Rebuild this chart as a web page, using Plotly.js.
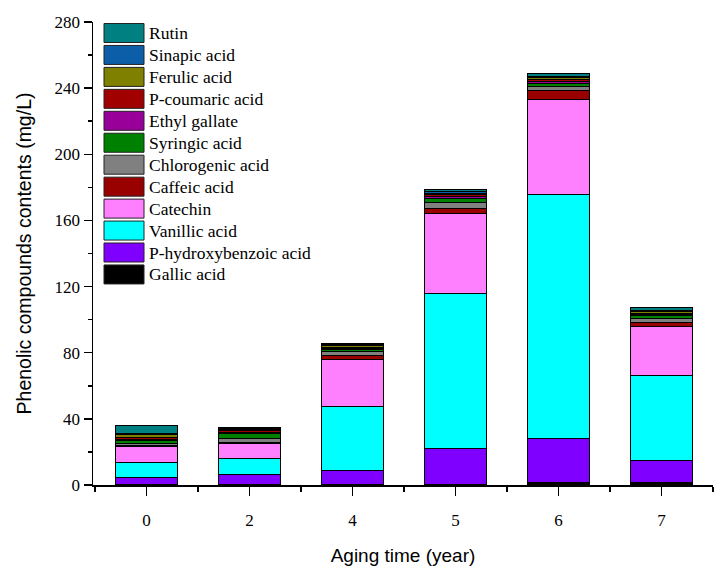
<!DOCTYPE html>
<html>
<head>
<meta charset="utf-8">
<script src="https://cdn.plot.ly/plotly-3.0.1.min.js"></script>
<style>html,body{margin:0;padding:0;background:#fff;}#chart{width:721px;height:578px;}</style>
</head>
<body>
<div id="chart"></div>
<script>
// Categories (aging time, years)
const categories = ['0', '2', '4', '5', '6', '7'];

// Series values (mg/L), stacked bottom -> top
const gallicAcid        = [0.5, 0.3, 0.3, 0.6, 1.4, 1.4];
const pHydroxybenzoic   = [4.1, 6.3, 8.7, 21.2, 26.6, 13.7];
const vanillicAcid      = [9.3, 9.5, 38.3, 94.1, 147.8, 51.4];
const catechin          = [9.3, 9.1, 28.6, 48.0, 57.4, 29.2];
const caffeicAcid       = [0.5, 0.6, 2.4, 3.6, 5.4, 2.6];
const chlorogenicAcid   = [1.5, 2.2, 2.2, 3.4, 2.2, 2.4];
const syringicAcid      = [1.6, 3.2, 1.2, 2.6, 1.8, 1.6];
const ethylGallate      = [0.6, 0.8, 0.8, 1.0, 1.2, 0.8];
const pCoumaricAcid     = [1.4, 0.8, 0.8, 1.0, 1.2, 0.8];
const ferulicAcid       = [1.6, 0.8, 0.8, 1.0, 1.2, 0.8];
const sinapicAcid       = [0.8, 0.6, 0.8, 1.0, 1.0, 0.7];
const rutin             = [4.5, 0.4, 0.8, 1.2, 1.7, 1.8];

const seriesNames = ['Gallic acid', 'P-hydroxybenzoic acid', 'Vanillic acid', 'Catechin',
  'Caffeic acid', 'Chlorogenic acid', 'Syringic acid', 'Ethyl gallate',
  'P-coumaric acid', 'Ferulic acid', 'Sinapic acid', 'Rutin'];
const seriesValues = [gallicAcid, pHydroxybenzoic, vanillicAcid, catechin, caffeicAcid,
  chlorogenicAcid, syringicAcid, ethylGallate, pCoumaricAcid, ferulicAcid, sinapicAcid, rutin];
const seriesColors = ['#000000', '#8000FF', '#00FFFF', '#FF80FF', '#990000', '#808080',
  '#008000', '#990099', '#A00000', '#808000', '#0D5EA8', '#008080'];

const xPos = categories.map((c, i) => i);

const traces = seriesNames.map((name, k) => ({
  type: 'bar',
  name: name,
  x: xPos,
  y: seriesValues[k],
  marker: { color: seriesColors[k], line: { color: '#000000', width: 1 } },
  showlegend: false,
  hovertemplate: name + ': %{y}<extra></extra>'
}));

// Custom legend (large swatches like the original), top item = last series
const shapes = [];
const annotations = [];
const W = 721, H = 578;
const mL = 93, mR = 8, mT = 22, mB = 93;
const pw = W - mL - mR, ph = H - mT - mB;
const legX0 = 104, legY0 = 23.5, legStep = 21.95, swW = 40, swH = 19;
const order = seriesNames.map((n, i) => i).reverse();
order.forEach((k, row) => {
  const y0 = legY0 + row * legStep;
  const toPX = px => (px - mL) / pw;
  const toPY = py => 1 - (py - mT) / ph;
  shapes.push({
    type: 'rect', xref: 'paper', yref: 'paper',
    x0: toPX(legX0), x1: toPX(legX0 + swW),
    y0: toPY(y0 + swH), y1: toPY(y0),
    fillcolor: seriesColors[k], line: { color: '#222222', width: 1 }
  });
  annotations.push({
    xref: 'paper', yref: 'paper', x: toPX(legX0 + swW + 3), y: toPY(y0 + swH / 2),
    xanchor: 'left', yanchor: 'middle', showarrow: false,
    text: seriesNames[k],
    font: { family: 'Liberation Serif, Times New Roman, serif', size: 17.5, color: '#000' }
  });
});

const layout = {
  width: W, height: H,
  margin: { l: mL, r: mR, t: mT, b: mB },
  paper_bgcolor: '#ffffff', plot_bgcolor: '#ffffff',
  barmode: 'stack',
  bargap: 0.4,
  showlegend: false,
  xaxis: {
    range: [-0.52, 5.5],
    tickmode: 'array', tickvals: xPos, ticktext: categories,
    ticks: 'outside', ticklen: 9, tickwidth: 1.5, tickcolor: '#000',
    ticklabelstandoff: 10,
    showline: true, linecolor: '#000', linewidth: 1.5,
    showgrid: false, zeroline: false,
    minor: { tickmode: 'linear', tick0: -0.5, dtick: 1, ticks: 'outside', ticklen: 5, tickwidth: 1.5, tickcolor: '#000', showgrid: false },
    tickfont: { family: 'Liberation Serif, Times New Roman, serif', size: 17, color: '#000' },
    title: { text: 'Aging time (year)', standoff: 20,
      font: { family: 'Liberation Sans, Arial, sans-serif', size: 19, color: '#000' } }
  },
  yaxis: {
    range: [0, 280],
    tickmode: 'linear', tick0: 0, dtick: 40,
    ticks: 'outside', ticklen: 8, tickwidth: 1.5, tickcolor: '#000',
    showline: true, linecolor: '#000', linewidth: 1.5,
    showgrid: false, zeroline: false,
    minor: { tickmode: 'linear', tick0: 0, dtick: 20, ticks: 'outside', ticklen: 4, tickwidth: 1.5, tickcolor: '#000', showgrid: false },
    tickfont: { family: 'Liberation Serif, Times New Roman, serif', size: 17, color: '#000' },
    title: { text: 'Phenolic compounds contents (mg/L)', standoff: 18,
      font: { family: 'Liberation Sans, Arial, sans-serif', size: 19.5, color: '#000' } }
  },
  shapes: shapes,
  annotations: annotations
};

Plotly.newPlot('chart', traces, layout, { displayModeBar: false, staticPlot: true });
</script>
</body>
</html>
